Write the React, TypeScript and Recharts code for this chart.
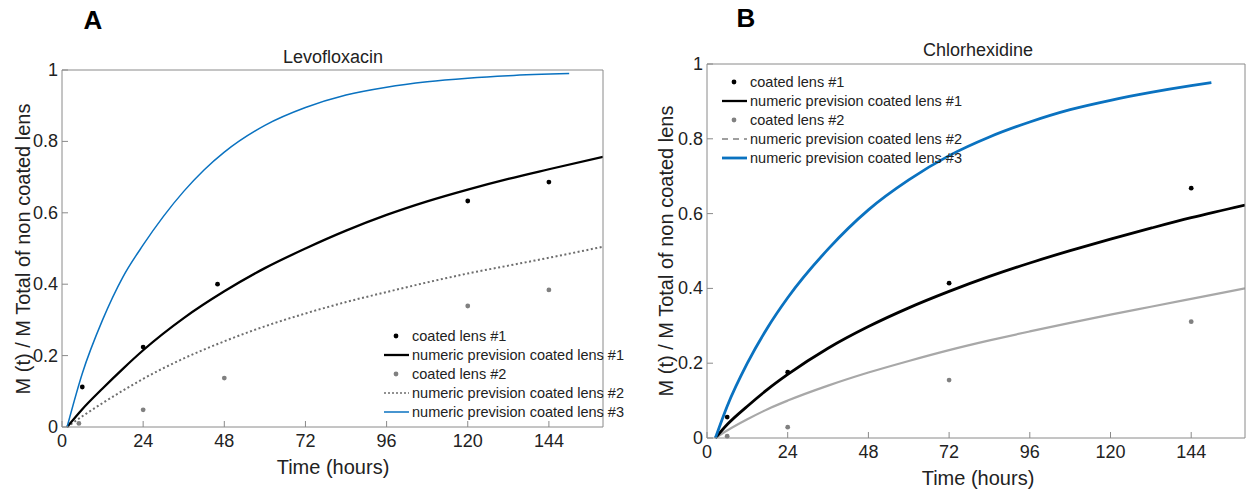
import React from "react";
import { ComposedChart, Line, Scatter, XAxis, YAxis } from "recharts";

const FONT = "'Liberation Sans', Arial, Helvetica, sans-serif";
const AXIS = "#8a8a8a";
const INK = "#222";
const BLUE = "#0a72c0";

const xTicks = [0, 24, 48, 72, 96, 120, 144];
const yTicks = [0, 0.2, 0.4, 0.6, 0.8, 1];

// Levofloxacin (A)
const levoLens1Points = [
  { t: 6, v: 0.112 },
  { t: 24, v: 0.224 },
  { t: 46, v: 0.4 },
  { t: 120, v: 0.633 },
  { t: 144, v: 0.686 },
];
const levoLens2Points = [
  { t: 5, v: 0.01 },
  { t: 24, v: 0.048 },
  { t: 48, v: 0.137 },
  { t: 120, v: 0.339 },
  { t: 144, v: 0.384 },
];
const levoModel1 = [
  { t: 1.5, v: 0 }, { t: 6, v: 0.05 }, { t: 12, v: 0.108 }, { t: 18, v: 0.163 },
  { t: 24, v: 0.215 }, { t: 36, v: 0.305 }, { t: 48, v: 0.38 }, { t: 60, v: 0.445 },
  { t: 72, v: 0.5 }, { t: 84, v: 0.55 }, { t: 96, v: 0.594 }, { t: 108, v: 0.632 },
  { t: 120, v: 0.665 }, { t: 132, v: 0.695 }, { t: 144, v: 0.722 }, { t: 160, v: 0.757 },
];
const levoModel2 = [
  { t: 1.5, v: 0 }, { t: 6, v: 0.03 }, { t: 12, v: 0.067 }, { t: 18, v: 0.102 },
  { t: 24, v: 0.135 }, { t: 36, v: 0.192 }, { t: 48, v: 0.24 }, { t: 60, v: 0.282 },
  { t: 72, v: 0.318 }, { t: 84, v: 0.35 }, { t: 96, v: 0.378 }, { t: 108, v: 0.405 },
  { t: 120, v: 0.43 }, { t: 132, v: 0.452 }, { t: 144, v: 0.474 }, { t: 160, v: 0.505 },
];
const levoModel3 = [
  { t: 1.5, v: 0 }, { t: 6, v: 0.15 }, { t: 12, v: 0.3 }, { t: 18, v: 0.42 },
  { t: 24, v: 0.51 }, { t: 30, v: 0.59 }, { t: 36, v: 0.66 }, { t: 42, v: 0.72 },
  { t: 48, v: 0.77 }, { t: 60, v: 0.845 }, { t: 72, v: 0.895 }, { t: 84, v: 0.93 },
  { t: 96, v: 0.952 }, { t: 108, v: 0.967 }, { t: 120, v: 0.977 }, { t: 132, v: 0.984 },
  { t: 150, v: 0.99 },
];

// Chlorhexidine (B)
const chlorLens1Points = [
  { t: 6, v: 0.056 },
  { t: 24, v: 0.176 },
  { t: 72, v: 0.414 },
  { t: 144, v: 0.668 },
];
const chlorLens2Points = [
  { t: 6, v: 0.005 },
  { t: 24, v: 0.029 },
  { t: 72, v: 0.155 },
  { t: 144, v: 0.311 },
];
const chlorModel1 = [
  { t: 2.5, v: 0 }, { t: 6, v: 0.036 }, { t: 12, v: 0.085 }, { t: 18, v: 0.13 },
  { t: 24, v: 0.17 }, { t: 36, v: 0.24 }, { t: 48, v: 0.298 }, { t: 60, v: 0.348 },
  { t: 72, v: 0.392 }, { t: 84, v: 0.432 }, { t: 96, v: 0.468 }, { t: 108, v: 0.501 },
  { t: 120, v: 0.532 }, { t: 132, v: 0.561 }, { t: 144, v: 0.589 }, { t: 160, v: 0.623 },
];
const chlorModel2 = [
  { t: 2.5, v: 0 }, { t: 6, v: 0.02 }, { t: 12, v: 0.05 }, { t: 18, v: 0.077 },
  { t: 24, v: 0.1 }, { t: 36, v: 0.14 }, { t: 48, v: 0.175 }, { t: 60, v: 0.206 },
  { t: 72, v: 0.235 }, { t: 84, v: 0.261 }, { t: 96, v: 0.285 }, { t: 108, v: 0.308 },
  { t: 120, v: 0.33 }, { t: 132, v: 0.351 }, { t: 144, v: 0.372 }, { t: 160, v: 0.4 },
];
const chlorModel3 = [
  { t: 2.5, v: 0 }, { t: 6, v: 0.085 }, { t: 12, v: 0.2 }, { t: 18, v: 0.295 },
  { t: 24, v: 0.375 }, { t: 36, v: 0.505 }, { t: 48, v: 0.61 }, { t: 60, v: 0.69 },
  { t: 72, v: 0.755 }, { t: 84, v: 0.805 }, { t: 96, v: 0.845 }, { t: 108, v: 0.878 },
  { t: 120, v: 0.903 }, { t: 132, v: 0.924 }, { t: 144, v: 0.942 }, { t: 150, v: 0.95 },
];

const legendLabels = [
  "coated lens #1",
  "numeric prevision coated lens #1",
  "coated lens #2",
  "numeric prevision coated lens #2",
  "numeric prevision coated lens #3",
];

// axis band sizes (margins are reduced by these so the plot box lands where wanted)
const XB = 30;
const XT = 6;
const YL = 40;
const YR = 6;

const BottomTick = (p: any) => (
  <g>
    <line x1={p.x} x2={p.x} y1={p.y} y2={p.y - 6} stroke={AXIS} />
    <text x={p.x} y={p.y + 20} textAnchor="middle" fontSize={18} fill={INK} fontFamily={FONT}>
      {p.payload.value}
    </text>
  </g>
);
const TopTick = (p: any) => (
  <line x1={p.x} x2={p.x} y1={p.y} y2={p.y + 6} stroke={AXIS} />
);
const LeftTick = (p: any) => (
  <g>
    <line x1={p.x} x2={p.x + 6} y1={p.y} y2={p.y} stroke={AXIS} />
    <text x={p.x - 4} y={p.y + 6} textAnchor="end" fontSize={18} fill={INK} fontFamily={FONT}>
      {p.payload.value}
    </text>
  </g>
);
const RightTick = (p: any) => (
  <line x1={p.x} x2={p.x - 6} y1={p.y} y2={p.y} stroke={AXIS} />
);

const dot = (color: string) => (p: any) => <circle cx={p.cx} cy={p.cy} r={2.4} fill={color} />;

function Axes() {
  return [
    <XAxis key="xb" xAxisId="b" dataKey="t" type="number" domain={[0, 160]} ticks={xTicks}
      height={XB} tickSize={0} tickMargin={0} tick={BottomTick} stroke={AXIS} allowDataOverflow />,
    <XAxis key="xt" xAxisId="t" orientation="top" dataKey="t" type="number" domain={[0, 160]}
      ticks={xTicks} height={XT} tickSize={0} tickMargin={0} tick={TopTick} stroke={AXIS} />,
    <YAxis key="yl" yAxisId="l" dataKey="v" type="number" domain={[0, 1]} ticks={yTicks}
      width={YL} tickSize={0} tickMargin={0} tick={LeftTick} stroke={AXIS} />,
    <YAxis key="yr" yAxisId="r" orientation="right" dataKey="v" type="number" domain={[0, 1]}
      ticks={yTicks} width={YR} tickSize={0} tickMargin={0} tick={RightTick} stroke={AXIS} />,
  ];
}

function LegendBox({ left, top, gray2Dash, gray2Color, blueWidth, blackWidth }: any) {
  const rowH = 18.9;
  const markers = [
    <circle cx={12} cy={9} r={2.4} fill="#000" />,
    <line x1={0} x2={25} y1={9} y2={9} stroke="#000" strokeWidth={blackWidth} />,
    <circle cx={12} cy={9} r={2.4} fill="#808080" />,
    <line x1={0} x2={25} y1={9} y2={9} stroke={gray2Color} strokeWidth={1.6} strokeDasharray={gray2Dash} />,
    <line x1={0} x2={25} y1={9} y2={9} stroke={BLUE} strokeWidth={blueWidth} />,
  ];
  return (
    <div style={{ position: "absolute", left, top }}>
      {legendLabels.map((lab, i) => (
        <div key={lab} style={{ position: "absolute", top: i * rowH, left: 0, height: 18, display: "flex", alignItems: "center", whiteSpace: "nowrap" }}>
          <svg width={26} height={18} style={{ display: "block" }}>{markers[i]}</svg>
          <span style={{ fontFamily: FONT, fontSize: 14.5, color: INK, marginLeft: 2 }}>{lab}</span>
        </div>
      ))}
    </div>
  );
}

function Label({ x, y, size, text, bold, rotate }: any) {
  return (
    <div style={{
      position: "absolute", left: x, top: y, fontFamily: FONT, fontSize: size, color: bold ? "#000" : INK,
      fontWeight: bold ? 700 : 400, whiteSpace: "nowrap",
      transform: `translate(-50%, -50%)${rotate ? " rotate(-90deg)" : ""}`,
    }}>{text}</div>
  );
}

export default function App() {
  return (
    <div style={{ position: "absolute", left: 0, top: 0, width: 1257, height: 490, background: "#fff", overflow: "hidden" }}>
      <div style={{ position: "absolute", left: 0, top: 0 }}>
        <ComposedChart width={620} height={490}
          margin={{ top: 70 - XT, right: 17 - YR, bottom: 63 - XB, left: 62 - YL }}>
          {Axes()}
          <Line xAxisId="b" yAxisId="l" data={levoModel2} dataKey="v" type="monotone" stroke="#6e6e6e"
            strokeWidth={2} strokeDasharray="2 2.5" dot={false} isAnimationActive={false} />
          <Line xAxisId="b" yAxisId="l" data={levoModel1} dataKey="v" type="monotone" stroke="#000"
            strokeWidth={2.3} dot={false} isAnimationActive={false} />
          <Line xAxisId="b" yAxisId="l" data={levoModel3} dataKey="v" type="monotone" stroke={BLUE}
            strokeWidth={1.5} dot={false} isAnimationActive={false} />
          <Scatter xAxisId="b" yAxisId="l" data={levoLens1Points} dataKey="v" shape={dot("#000")} isAnimationActive={false} />
          <Scatter xAxisId="b" yAxisId="l" data={levoLens2Points} dataKey="v" shape={dot("#808080")} isAnimationActive={false} />
        </ComposedChart>
      </div>
      <div style={{ position: "absolute", left: 640, top: 0 }}>
        <ComposedChart width={617} height={490}
          margin={{ top: 64 - XT, right: 12 - YR, bottom: 52 - XB, left: 67 - YL }}>
          {Axes()}
          <Line xAxisId="b" yAxisId="l" data={chlorModel2} dataKey="v" type="monotone" stroke="#a8a8a8"
            strokeWidth={2.2} dot={false} isAnimationActive={false} />
          <Line xAxisId="b" yAxisId="l" data={chlorModel1} dataKey="v" type="monotone" stroke="#000"
            strokeWidth={2.8} dot={false} isAnimationActive={false} />
          <Line xAxisId="b" yAxisId="l" data={chlorModel3} dataKey="v" type="monotone" stroke={BLUE}
            strokeWidth={2.8} dot={false} isAnimationActive={false} />
          <Scatter xAxisId="b" yAxisId="l" data={chlorLens1Points} dataKey="v" shape={dot("#000")} isAnimationActive={false} />
          <Scatter xAxisId="b" yAxisId="l" data={chlorLens2Points} dataKey="v" shape={dot("#808080")} isAnimationActive={false} />
        </ComposedChart>
      </div>

      <Label x={93} y={20} size={26} bold text="A" />
      <Label x={333} y={57} size={18} text="Levofloxacin" />
      <Label x={333} y={467} size={20} text="Time (hours)" />
      <Label x={23} y={249} size={20} rotate text="M (t) / M Total of non coated lens" />
      <LegendBox left={384} top={327} gray2Dash="2 2" gray2Color="#6e6e6e" blueWidth={1.5} blackWidth={2.3} />

      <Label x={746} y={18} size={26} bold text="B" />
      <Label x={978} y={50} size={18} text="Chlorhexidine" />
      <Label x={978} y={478} size={20} text="Time (hours)" />
      <Label x={666} y={251} size={20} rotate text="M (t) / M Total of non coated lens" />
      <LegendBox left={722} top={73} gray2Dash="6 5" gray2Color="#808080" blueWidth={2.8} blackWidth={2.3} />
    </div>
  );
}
